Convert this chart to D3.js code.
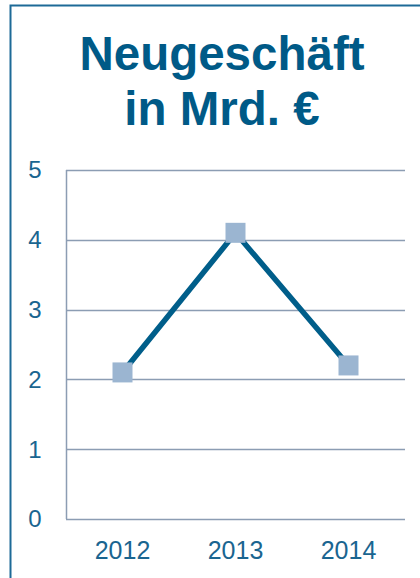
<!DOCTYPE html>
<html>
<head>
<meta charset="utf-8">
<script src="https://cdn.jsdelivr.net/npm/d3@7"></script>
<style>
  body { margin: 0; background: #fff; }
  svg { display: block; font-family: "Liberation Sans", Arial, sans-serif; }
</style>
</head>
<body>
<script>
var years = ["2012", "2013", "2014"]
var values = [2.1, 4.1, 2.2]
var yTicks = [0, 1, 2, 3, 4, 5]
var titleLines = ["Neugeschäft", "in Mrd. €"]

var width = 420, height = 578
var margin = {top: 170, right: 15, bottom: 59, left: 66}

var svg = d3.select("body").append("svg")
    .attr("width", width)
    .attr("height", height)

// frame (only top and left visible)
svg.append("path")
    .attr("d", `M10.5,${height}V5.5H${width}`)
    .attr("fill", "none")
    .attr("stroke", "#1d6a97")
    .attr("stroke-width", 2)

svg.append("g")
    .selectAll("text")
    .data(titleLines)
    .enter().append("text")
    .attr("x", 222)
    .attr("y", (d, i) => 70 + i * 55)
    .attr("text-anchor", "middle")
    .attr("font-size", 47.5)
    .attr("font-weight", "bold")
    .attr("fill", "#005a87")
    .text(d => d)

var x = d3.scaleBand()
    .domain(years)
    .range([margin.left, width - margin.right])

var y = d3.scaleLinear()
    .domain([0, 5])
    .range([height - margin.bottom, margin.top])

// gridlines
svg.append("g")
    .selectAll("line")
    .data(yTicks)
    .enter().append("line")
    .attr("x1", margin.left)
    .attr("x2", width - margin.right)
    .attr("y1", d => Math.round(y(d)) + 0.5)
    .attr("y2", d => Math.round(y(d)) + 0.5)
    .attr("stroke", "#8c9db3")
    .attr("stroke-width", 1.5)

svg.append("line")
    .attr("x1", margin.left + 0.5)
    .attr("x2", margin.left + 0.5)
    .attr("y1", y(5))
    .attr("y2", y(0))
    .attr("stroke", "#8c9db3")
    .attr("stroke-width", 1.5)

// y labels
svg.append("g")
    .selectAll("text")
    .data(yTicks)
    .enter().append("text")
    .attr("x", 35)
    .attr("y", d => y(d))
    .attr("dy", "0.35em")
    .attr("text-anchor", "middle")
    .attr("font-size", 24)
    .attr("fill", "#1a6590")
    .text(d => d)

// x labels
svg.append("g")
    .selectAll("text")
    .data(years)
    .enter().append("text")
    .attr("x", d => x(d) + x.bandwidth() / 2)
    .attr("y", y(0) + 31)
    .attr("dy", "0.35em")
    .attr("text-anchor", "middle")
    .attr("font-size", 25)
    .attr("fill", "#1a6590")
    .text(d => d)

var pts = years.map((d, i) => [x(d) + x.bandwidth() / 2, y(values[i])])

svg.append("path")
    .attr("d", d3.line()(pts))
    .attr("fill", "none")
    .attr("stroke", "#005e8a")
    .attr("stroke-width", 5.5)
    .attr("stroke-linejoin", "miter")

var s = 20
svg.append("g")
    .selectAll("rect")
    .data(pts)
    .enter().append("rect")
    .attr("x", d => d[0] - s / 2)
    .attr("y", d => d[1] - s / 2)
    .attr("width", s)
    .attr("height", s)
    .attr("fill", "#9bb5d1")
</script>
</body>
</html>
